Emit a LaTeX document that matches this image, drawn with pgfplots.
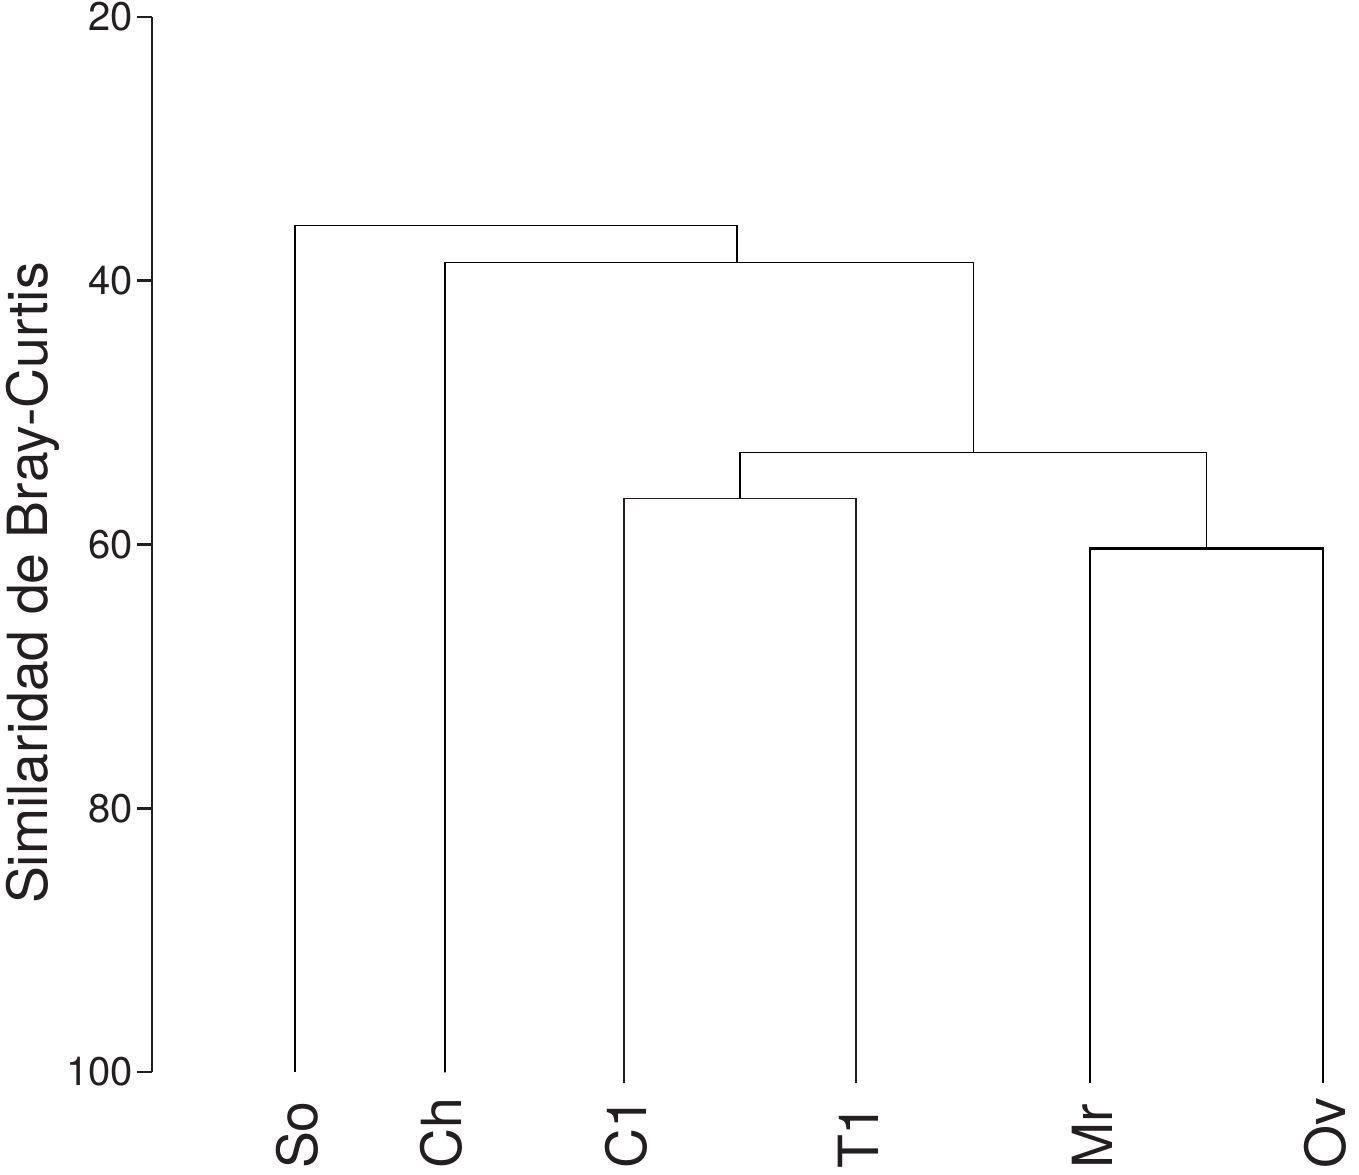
\documentclass[border=0pt]{standalone}
\usepackage{fontspec}
\setmainfont{TeX Gyre Heros}
\usepackage{pgfplots}
\pgfplotsset{compat=1.18}
\definecolor{ink}{HTML}{231F20}
\begin{document}
\begin{tikzpicture}[x=0.3pt,y=0.3pt]
\useasboundingbox (-152,-102) rectangle (1207,1072);
\begin{axis}[
  at={(0,0)}, anchor=south west,
  scale only axis,
  width=362.1pt, height=316.5pt,
  xmin=152, xmax=1359,
  ymin=20, ymax=100,
  y dir=reverse,
  clip=false,
  axis x line=none,
  axis y line=left,
  axis line style={-, line width=0.85pt, color=ink},
  ytick={20,40,60,80,100},
  tick align=outside,
  major tick length=4.5pt,
  ytick style={line width=0.85pt, color=ink},
  yticklabel style={inner sep=1pt, font=\fontsize{12}{14}\selectfont, text=ink},
  /pgf/number format/assume math mode=true,
  ylabel={Similaridad de Bray-Curtis},
  every axis y label/.style={at={(axis description cs:-0.0760,0.4635)}, rotate=90, anchor=south, inner sep=0pt, font=\fontsize{16.6}{20}\selectfont, text=ink},
  cycle list={{ink, line width=0.8pt, line join=round, line cap=round, no markers}},
]
% C1 - T1
\addplot coordinates {(624,100.8) (624,56.5) (856,56.5) (856,100.8)};
% Mr - Ov
\addplot coordinates {(1090,100.8) (1090,60.3) (1323,60.3) (1323,100.8)};
% (C1,T1) - (Mr,Ov)
\addplot coordinates {(740,56.5) (740,53.0) (1206.5,53.0) (1206.5,60.3)};
% Ch - rest
\addplot coordinates {(445,100) (445,38.6) (973.3,38.6) (973.3,53.0)};
% So - rest
\addplot coordinates {(295,100) (295,35.8) (737,35.8) (737,38.6)};
\foreach \lab/\xx in {So/297, Ch/441, C1/626, T1/858, Mr/1092, Ov/1325} {
  \edef\tmp{\noexpand\node[rotate=90, anchor=west, inner sep=0pt, font=\noexpand\fontsize{16.6}{20}\noexpand\selectfont, text=ink] at (axis cs:\xx,107.4) {\lab};}
  \tmp
}
\end{axis}
\end{tikzpicture}
\end{document}
